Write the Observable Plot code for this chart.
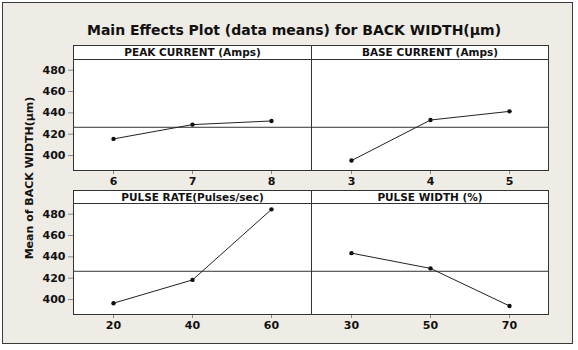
<!DOCTYPE html>
<html>
<head>
<meta charset="utf-8">
<script src="https://cdn.jsdelivr.net/npm/d3@7"></script>
<script src="https://cdn.jsdelivr.net/npm/@observablehq/plot@0.6"></script>
<style>
  body { margin: 0; background: #ffffff; font-family: "DejaVu Sans", Verdana, sans-serif; }
  #chart { position: relative; width: 578px; height: 350px; overflow: hidden; background: #ffffff; }
  #frame { position: absolute; left: 2px; top: 2px; width: 569px; height: 340px; border: 1px solid #3a3a3a; background: #efebe5; }
  #title { position: absolute; left: 0; width: 588px; top: 22px; text-align: center; font-weight: bold; font-size: 14px; color: #111; }
  #ytitle { position: absolute; left: 29px; top: 178px; transform: translate(-50%, -50%) rotate(-90deg); white-space: nowrap; font-weight: bold; font-size: 11px; color: #111; }
  .strip { position: absolute; box-sizing: border-box; border: 1px solid #333; background: #fff; text-align: center; font-weight: bold; font-size: 10.5px; color: #111; line-height: 12px; }
  .panel { position: absolute; }
  .panel svg { overflow: visible; background: transparent !important; }
</style>
</head>
<body>
<div id="chart">
  <div id="frame"></div>
  <div id="title">Main Effects Plot (data means) for BACK WIDTH(μm)</div>
  <div id="ytitle">Mean of BACK WIDTH(μm)</div>
</div>
<script>
// Factor levels and the mean response at each level
const peakLevels = [6, 7, 8];
const peakMeans = [415.6, 429.0, 432.4];
const baseLevels = [3, 4, 5];
const baseMeans = [395.3, 433.3, 441.4];
const rateLevels = [20, 40, 60];
const rateMeans = [396.6, 418.4, 484.5];
const widthLevels = [30, 50, 70];
const widthMeans = [443.5, 429.2, 394.0];
const grandMean = 426.5;
const yTicks = [400, 420, 440, 460, 480];
const factorNames = ["PEAK CURRENT (Amps)", "BASE CURRENT (Amps)", "PULSE RATE(Pulses/sec)", "PULSE WIDTH (%)"];

const factors = [
  {name: factorNames[0], levels: peakLevels, means: peakMeans, col: 0, row: 0},
  {name: factorNames[1], levels: baseLevels, means: baseMeans, col: 1, row: 0},
  {name: factorNames[2], levels: rateLevels, means: rateMeans, col: 0, row: 1},
  {name: factorNames[3], levels: widthLevels, means: widthMeans, col: 1, row: 1}
];

const chart = document.getElementById("chart");
const colX = [73, 311];
const colW = [238, 237];
const rowStripTop = [45, 190];
const stripH = [14, 13];
const plotH = 111;
const yLeftMargin = 60;

for (const f of factors) {
  const left = colX[f.col];
  const w = colW[f.col];
  const stripTop = rowStripTop[f.row];
  const plotTop = stripTop + stripH[f.row];

  // strip label above each panel
  const strip = document.createElement("div");
  strip.className = "strip";
  strip.style.left = left + "px";
  strip.style.top = stripTop + "px";
  strip.style.width = (w + 1) + "px";
  strip.style.height = (stripH[f.row] + 1) + "px";
  strip.textContent = f.name;
  chart.appendChild(strip);

  const data = f.levels.map((lv, i) => ({level: String(lv), mean: f.means[i]}));
  const showY = f.col === 0;
  const ml = showY ? yLeftMargin : 0;

  const plot = Plot.plot({
    width: ml + w + 1,
    height: plotH + 30,
    marginLeft: ml,
    marginRight: 1,
    marginTop: 0,
    marginBottom: 30,
    style: {fontFamily: "DejaVu Sans, Verdana, sans-serif", fontSize: "11px", fontWeight: "bold", color: "#111", background: "transparent"},
    x: {type: "point", domain: f.levels.map(String), padding: 0.5, label: null, axis: null},
    y: {domain: [386, 490], label: null, axis: null},
    marks: [
      Plot.frame({fill: "#fff", stroke: "none"}),
      Plot.ruleY([grandMean], {stroke: "#333", strokeWidth: 1}),
      Plot.line(data, {x: "level", y: "mean", stroke: "#222", strokeWidth: 1}),
      Plot.dot(data, {x: "level", y: "mean", r: 2.2, fill: "#111", stroke: "none"}),
      Plot.axisX({tickSize: 4, tickPadding: 3, stroke: "#888", fill: "#111", fontWeight: "bold", fontSize: 11}),
      showY ? Plot.axisY({ticks: yTicks, tickSize: 5, tickPadding: 3, stroke: "#888", fill: "#111", fontWeight: "bold", fontSize: 11}) : null,
      Plot.frame({stroke: "#333", strokeWidth: 1})
    ]
  });
  const holder = document.createElement("div");
  holder.className = "panel";
  holder.style.left = (left - ml) + "px";
  holder.style.top = plotTop + "px";
  holder.appendChild(plot);
  chart.appendChild(holder);
}
</script>
</body>
</html>
